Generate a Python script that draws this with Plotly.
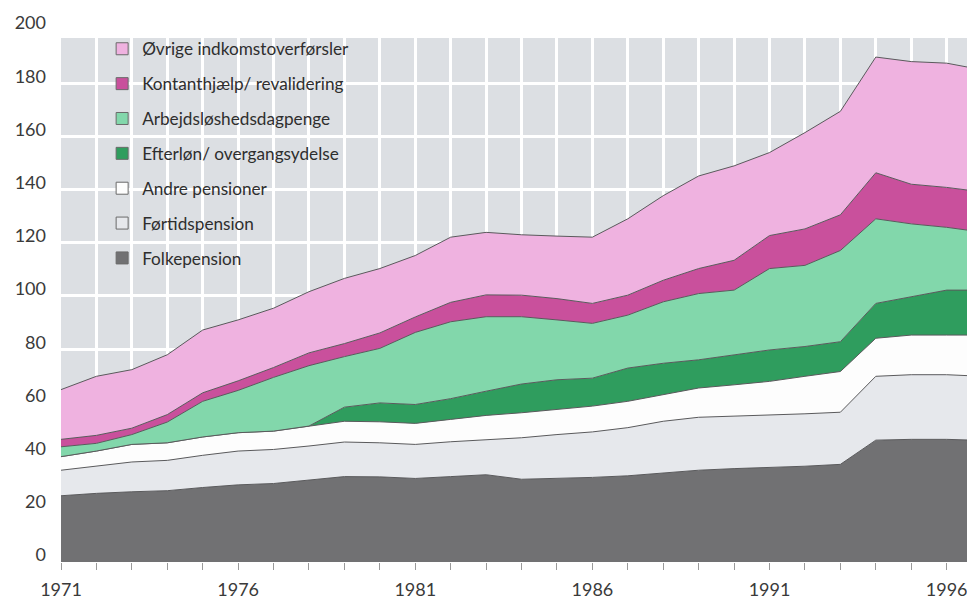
import plotly.graph_objects as go

YEARS = list(range(1971, 1998))

FOLKEPENSION = [24.9, 25.8, 26.4, 26.8, 28.0, 29.0, 29.5, 30.8, 32.1, 32.0, 31.4, 32.1, 32.8,
                31.1, 31.4, 31.8, 32.4, 33.4, 34.5, 35.1, 35.5, 36.0, 36.7, 45.8, 46.1, 46.1, 45.7]
FORTIDSPENSION = [9.6, 10.3, 11.2, 11.4, 12.1, 12.7, 12.8, 12.8, 13.0, 12.8, 12.8, 13.1, 13.1,
                  15.6, 16.5, 17.1, 18.1, 19.5, 19.9, 19.7, 19.7, 19.7, 19.6, 24.0, 24.3, 24.3, 24.1]
ANDRE_PENSIONER = [5.1, 5.6, 6.6, 6.6, 6.9, 6.9, 6.9, 7.5, 7.8, 7.9, 7.9, 8.4, 9.2,
                   9.4, 9.4, 9.7, 9.9, 10.0, 11.0, 11.8, 12.7, 14.1, 15.3, 14.3, 14.9, 14.9, 15.5]
EFTERLON = [0, 0, 0, 0, 0, 0, 0, 0, 5.3, 7.1, 7.1, 7.8, 9.1,
            10.8, 11.2, 10.5, 12.5, 11.8, 10.6, 11.3, 11.8, 11.2, 11.2, 13.1, 14.4, 16.9, 16.9]
ARBEJDSLOSHED = [3.7, 2.9, 3.7, 7.8, 13.4, 15.9, 20.2, 22.7, 19.0, 20.5, 27.1, 28.9, 28.0,
                 25.3, 22.5, 20.6, 19.9, 23.1, 24.9, 24.3, 30.6, 30.5, 34.3, 31.8, 27.4, 23.6, 21.8]
KONTANTHJAELP = [2.8, 3.0, 2.4, 2.8, 3.2, 3.6, 3.7, 4.8, 4.9, 5.8, 5.8, 7.3, 8.2,
                 8.1, 8.0, 7.5, 7.5, 8.1, 9.4, 11.2, 12.4, 13.7, 13.4, 17.3, 14.9, 15.0, 15.1]
OVRIGE = [18.7, 22.2, 22.0, 22.5, 23.6, 22.9, 22.3, 23.0, 24.5, 24.2, 23.1, 24.5, 23.5,
          22.7, 23.5, 24.9, 28.7, 31.8, 34.8, 35.5, 31.2, 36.2, 38.9, 43.5, 46.1, 46.7, 45.9]

SERIES_NAMES = ["Folkepension", "Førtidspension", "Andre pensioner",
                "Efterløn/ overgangsydelse", "Arbejdsløshedsdagpenge",
                "Kontanthjælp/ revalidering", "Øvrige indkomstoverførsler"]
SERIES_VALUES = [FOLKEPENSION, FORTIDSPENSION, ANDRE_PENSIONER, EFTERLON,
                 ARBEJDSLOSHED, KONTANTHJAELP, OVRIGE]
COLORS = ["#717173", "#e6e8ec", "#fdfdfd", "#2f9d5e", "#82d7ab", "#c9509c", "#efb2e0"]

TICK_YEARS = YEARS[:-1]
TICK_TEXT = [str(y) if (y - 1971) % 5 == 0 else "" for y in TICK_YEARS]
Y_TICKS = list(range(0, 201, 20))

fig = go.Figure()

for name, vals, col in zip(SERIES_NAMES, SERIES_VALUES, COLORS):
    fig.add_trace(go.Scatter(
        x=YEARS, y=vals, name=name, stackgroup="one", mode="lines",
        line=dict(color="#5a5a5c", width=1), fillcolor=col,
        showlegend=False, hoverinfo="x+y+name"))

# legend entries (top to bottom)
for i, (name, col) in enumerate(reversed(list(zip(SERIES_NAMES, COLORS)))):
    fig.add_trace(go.Scatter(
        x=[None], y=[None], yaxis="y2", mode="markers", name=name, legendgroup=str(i),
        marker=dict(symbol="square", size=12, color=col,
                    line=dict(color="#6a6a6a", width=1))))

fig.add_shape(type="rect", xref="x", yref="y", x0=1971, x1=1998, y0=0, y1=197,
              fillcolor="#dcdfe3", line=dict(width=0), layer="below")

fig.update_layout(
    width=967, height=592,
    margin=dict(l=53, r=0, t=15, b=33),
    paper_bgcolor="white", plot_bgcolor="white",
    font=dict(family="Lato, 'Open Sans', sans-serif", color="#333333"),
    legend=dict(x=0.045, y=0.985, xanchor="left", yanchor="top",
                bgcolor="rgba(0,0,0,0)", font=dict(size=17.2, color="#2e2e2e"),
                traceorder="grouped", tracegroupgap=9.5, itemwidth=30),
    showlegend=True,
    xaxis=dict(range=[1971, 1996.8], tickmode="array", tickvals=TICK_YEARS,
               ticktext=TICK_TEXT, ticks="outside", ticklen=7, tickcolor="#9a9a9a",
               ticklabelstandoff=4,
               showgrid=True, gridcolor="white", gridwidth=2.5, zeroline=False,
               showline=False, tickfont=dict(size=18, color="#3a3a3a")),
    yaxis=dict(range=[0, 202.6], tickvals=Y_TICKS, showticklabels=False,
               showgrid=True, gridcolor="white", gridwidth=2.5, zeroline=False,
               showline=False, ticks=""),
    yaxis2=dict(range=[-2.6, 200], overlaying="y", side="left", tickvals=Y_TICKS,
                showgrid=False, zeroline=False, showline=False, ticks="",
                ticklabelstandoff=14, tickfont=dict(size=18, color="#3a3a3a")),
)

fig.write_html("out.html")
